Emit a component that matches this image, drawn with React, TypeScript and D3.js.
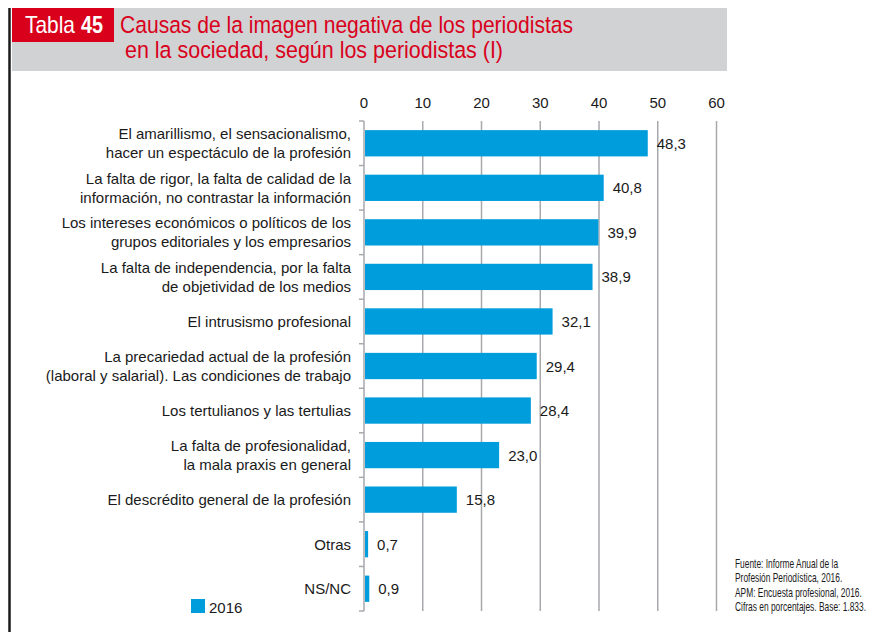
import React from "react";
import * as d3 from "d3";

const categories: string[][] = [
  ["El amarillismo, el sensacionalismo,", "hacer un espectáculo de la profesión"],
  ["La falta de rigor, la falta de calidad de la", "información, no contrastar la información"],
  ["Los intereses económicos o políticos de los", "grupos editoriales y los empresarios"],
  ["La falta de independencia, por la falta", "de objetividad de los medios"],
  ["El intrusismo profesional"],
  ["La precariedad actual de la profesión", "(laboral y salarial). Las condiciones de trabajo"],
  ["Los tertulianos y las tertulias"],
  ["La falta de profesionalidad,", "la mala praxis en general"],
  ["El descrédito general de la profesión"],
  ["Otras"],
  ["NS/NC"],
];
const values2016: number[] = [48.3, 40.8, 39.9, 38.9, 32.1, 29.4, 28.4, 23.0, 15.8, 0.7, 0.9];
const tickValues: number[] = [0, 10, 20, 30, 40, 50, 60];
const seriesName = "2016";
const tableWord = "Tabla";
const tableNumber = "45";
const titleLines: string[] = [
  "Causas de la imagen negativa de los periodistas",
  "en la sociedad, según los periodistas (I)",
];
const sourceLines: string[] = [
  "Fuente: Informe Anual de la",
  "Profesión Periodística, 2016.",
  "APM: Encuesta profesional, 2016.",
  "Cifras en porcentajes. Base: 1.833.",
];

const W = 877;
const H = 632;
const BLUE = "#009ddc";
const RED = "#d9001b";

export default function App() {
  const x = d3.scaleLinear().domain([0, 60]).range([364, 716.5]);
  const idx = categories.map((_, i) => String(i));
  const y = d3.scaleBand().domain(idx).range([121, 611]).paddingInner(0.41).paddingOuter(0.205);
  const step = y.step();
  const bandTop = (i: number) => 121 + i * step;
  const fmt = (v: number) => v.toFixed(1).replace(".", ",");
  const font = "'Liberation Sans', Arial, sans-serif";
  const titleX = [120, 125];
  const titleW = [453, 378];
  const srcScale = 0.7;

  return (
    <svg width={W} height={H} style={{ position: "absolute", left: 0, top: 0, background: "#fff" }}>
      {/* header */}
      <rect x={12} y={8} width={715} height={63} fill="#d1d2d4" />
      <rect x={12} y={8} width={102} height={34} fill={RED} />
      <line x1={9.5} x2={9.5} y1={8} y2={H} stroke="#1a1a1a" strokeWidth={2.5} />
      <text x={25} y={33} fill="#fff" fontFamily={font} fontSize={24} textLength={50} lengthAdjust="spacingAndGlyphs">
        {tableWord}
      </text>
      <text x={81} y={33} fill="#fff" fontFamily={font} fontSize={24} fontWeight="bold" textLength={22} lengthAdjust="spacingAndGlyphs">
        {tableNumber}
      </text>
      {titleLines.map((t, i) => (
        <text
          key={i}
          x={titleX[i]}
          y={33 + i * 25}
          fill={RED}
          fontFamily={font}
          fontSize={24.5}
          textLength={titleW[i]}
          lengthAdjust="spacingAndGlyphs"
        >
          {t}
        </text>
      ))}

      {/* axis tick labels */}
      {tickValues.map((t) => (
        <text key={t} x={x(t)} y={108} textAnchor="middle" fontFamily={font} fontSize={15} fill="#1a1a1a">
          {t}
        </text>
      ))}
      {/* gridlines */}
      {tickValues.map((t) => (
        <line key={t} x1={x(t)} x2={x(t)} y1={121} y2={611} stroke="#a7a9ac" strokeWidth={1.5} />
      ))}
      {/* category separator ticks */}
      {d3.range(categories.length + 1).map((i) => (
        <line key={i} x1={359} x2={364} y1={bandTop(i)} y2={bandTop(i)} stroke="#a7a9ac" strokeWidth={1.5} />
      ))}

      {/* bars */}
      {values2016.map((v, i) => (
        <g key={i}>
          <rect x={x(0) + 1} y={y(String(i))!} width={x(v) - x(0) - 1} height={y.bandwidth()} fill={BLUE} />
          <text x={x(v) + 9} y={y(String(i))! + y.bandwidth() / 2 + 5.5} fontFamily={font} fontSize={15} fill="#1a1a1a">
            {fmt(v)}
          </text>
        </g>
      ))}

      {/* category labels */}
      {categories.map((lines, i) => {
        const c = y(String(i))! + y.bandwidth() / 2;
        const lh = 19;
        const start = c - ((lines.length - 1) * lh) / 2 + 5.5;
        return (
          <text key={i} textAnchor="end" fontFamily={font} fontSize={15} fill="#1a1a1a">
            {lines.map((l, j) => (
              <tspan key={j} x={351} y={start + j * lh}>
                {l}
              </tspan>
            ))}
          </text>
        );
      })}

      {/* legend */}
      <rect x={191} y={599} width={14} height={14} fill={BLUE} />
      <text x={209} y={612.5} fontFamily={font} fontSize={15} fill="#1a1a1a">
        {seriesName}
      </text>

      {/* source */}
      <g transform={`translate(735,0) scale(${srcScale},1)`}>
        {sourceLines.map((s, i) => (
          <text key={i} x={0} y={568 + i * 14.5} fontFamily={font} fontSize={12} fill="#1a1a1a">
            {s}
          </text>
        ))}
      </g>
    </svg>
  );
}
